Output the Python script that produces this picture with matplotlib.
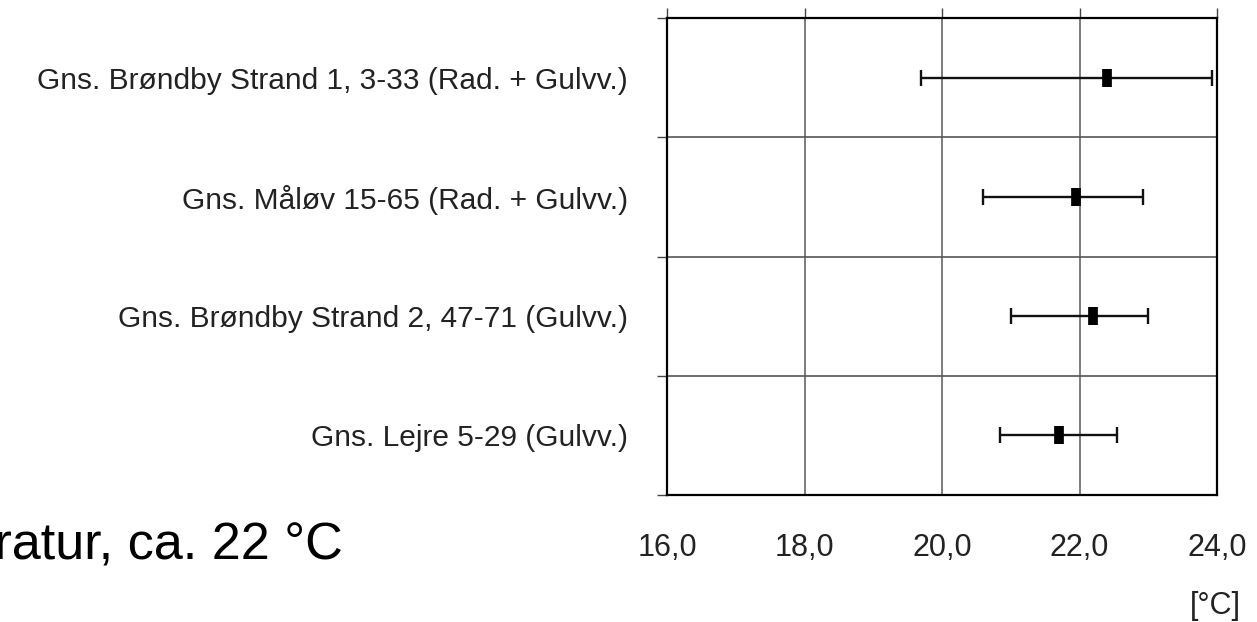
import matplotlib
matplotlib.use('Agg')
import numpy as np
import matplotlib.pyplot as plt

# rows from top to bottom
labels = ['Gns. Brøndby Strand 1, 3-33 (Rad. + Gulvv.)',
          'Gns. Måløv 15-65 (Rad. + Gulvv.)',
          'Gns. Brøndby Strand 2, 47-71 (Gulvv.)',
          'Gns. Lejre 5-29 (Gulvv.)']
means = [22.4, 21.95, 22.2, 21.7]
lows = [19.7, 20.6, 21.0, 20.85]
highs = [23.93, 22.93, 23.0, 22.55]
xticks = [16.0, 18.0, 20.0, 22.0, 24.0]
xticklabels = ['16,0', '18,0', '20,0', '22,0', '24,0']

plt.rcParams['font.family'] = ['Liberation Sans', 'DejaVu Sans']

fig = plt.figure(figsize=(12.57, 6.22), dpi=100)
ax = fig.add_axes([667/1257, 1 - 495/622, 550/1257, 477/622])

y = np.arange(len(labels))
means = np.array(means)
xerr = [means - np.array(lows), np.array(highs) - means]
ax.errorbar(means, y, xerr=xerr, fmt='none', ecolor='#111111', elinewidth=1.7,
            capsize=6, capthick=1.7, zorder=3)
ax.plot(means, y, linestyle='none', marker='|', markersize=13,
        markeredgewidth=7, color='black', zorder=4)

ax.set_xlim(16, 24)
ax.set_ylim(len(labels) - 0.5, -0.5)

# x axis: ticks drawn on top, labels at bottom
ax.set_xticks(xticks)
ax.set_xticklabels(xticklabels, fontsize=22, color='#222222')
ax.tick_params(axis='x', top=True, bottom=False, labelbottom=True,
               direction='out', length=7, width=1.0, color='#444444', pad=20)

# y axis: boundaries as major ticks, names on minor ticks
ax.set_yticks(np.arange(len(labels) + 1) - 0.5)
ax.set_yticklabels([])
ax.set_yticks(y, minor=True)
ax.set_yticklabels(labels, minor=True, fontsize=21.5, color='#222222')
ax.tick_params(axis='y', which='major', direction='out', length=7, width=1.0, color='#444444')
ax.tick_params(axis='y', which='minor', length=0, pad=28)

for v in xticks[1:-1]:
    ax.axvline(v, color='#666666', linewidth=1.2, zorder=1)
for b in np.arange(1, len(labels)) - 0.5:
    ax.axhline(b, color='#555555', linewidth=1.2, zorder=1)

for s in ax.spines.values():
    s.set_linewidth(1.6)
    s.set_color('black')

fig.text(1215/1257, 1 - 606/622, '[°C]', fontsize=22, color='#222222',
         ha='center', va='center')
# heading continues off the left edge, as in the source slide
fig.text(343/1257, 1 - 559/622, 'Temperatur, ca. 22 °C', fontsize=37.5,
         color='black', ha='right', va='baseline')

fig.savefig('out.png', dpi=100)
